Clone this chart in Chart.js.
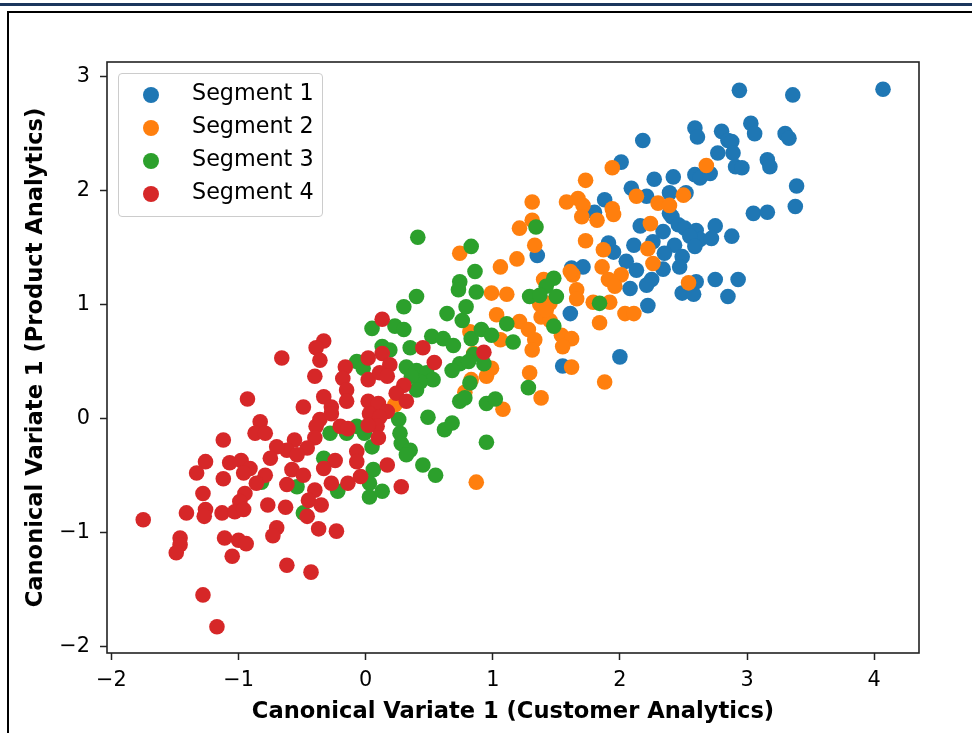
<!DOCTYPE html>
<html>
<head>
<meta charset="utf-8">
<title>Canonical variates by segment</title>
<script src="https://cdn.jsdelivr.net/npm/chart.js@4.4.1/dist/chart.umd.min.js"></script>
<style>
  html, body { margin: 0; padding: 0; background: #fff; }
  #wrap { position: relative; width: 972px; height: 733px; overflow: hidden; }
  #topbar { position: absolute; left: 0; top: 3px; width: 972px; height: 2.5px; background: #1b365d; }
  #frame { position: absolute; left: 7px; top: 11px; width: 990px; height: 740px; border-top: 2px solid #000; border-left: 2px solid #000; }
  #chart { position: absolute; left: 0; top: 0; }
  #legend {
    position: absolute; left: 118px; top: 73px; width: 203px; height: 138px;
    border: 1px solid #cccccc; border-radius: 4px; background: rgba(255, 255, 255, 0.8);
    font-family: 'DejaVu Sans', sans-serif; font-size: 22.3px; color: #000;
    padding-top: 4px; box-sizing: content-box;
  }
  .item { position: relative; height: 33px; }
  .dot { position: absolute; left: 24px; top: 9px; width: 16px; height: 16px; border-radius: 50%; }
  .lbl { position: absolute; left: 73px; top: -2px; line-height: 33px; white-space: nowrap; }
</style>
</head>
<body>
<div id="wrap">
  <div id="topbar"></div>
  <div id="frame"></div>
  <canvas id="chart" width="972" height="733"></canvas>
  <div id="legend"></div>
</div>
<script>
// segment names and colours
const segmentNames = ['Segment 1', 'Segment 2', 'Segment 3', 'Segment 4'];
const segmentColors = ['#1f77b4', '#ff7f0e', '#2ca02c', '#d62728'];

// axis ticks and limits
const xTickValues = [-2, -1, 0, 1, 2, 3, 4];
const yTickValues = [-2, -1, 0, 1, 2, 3];
const xLimits = [-2.035, 4.353];
const yLimits = [-2.060, 3.129];

// [customer variate, product variate] per segment
const segment1 = [
  [2.94, 2.88], [3.36, 2.84], [4.07, 2.89], [2.59, 2.55], [2.61, 2.47], [2.80, 2.52], [2.85, 2.44], [2.88, 2.43],
  [2.89, 2.33], [2.91, 2.21], [2.96, 2.20], [3.03, 2.59], [3.06, 2.50], [3.30, 2.50], [3.33, 2.46], [2.18, 2.44],
  [2.77, 2.33], [3.16, 2.27], [3.18, 2.21], [2.01, 2.25], [2.59, 2.14], [2.63, 2.11], [2.71, 2.15], [2.42, 2.12],
  [2.27, 2.10], [3.39, 2.04], [2.09, 2.02], [2.39, 1.98], [2.52, 1.98], [2.21, 1.95], [1.88, 1.92], [3.38, 1.86],
  [3.05, 1.80], [3.16, 1.81], [2.39, 1.80], [2.41, 1.77], [2.16, 1.69], [2.46, 1.70], [2.34, 1.64], [2.51, 1.67],
  [2.60, 1.65], [2.75, 1.69], [2.63, 1.57], [2.72, 1.58], [2.88, 1.60], [2.55, 1.60], [2.59, 1.51], [2.43, 1.52],
  [2.11, 1.52], [2.26, 1.55], [1.91, 1.54], [1.95, 1.46], [2.49, 1.42], [2.35, 1.45], [2.05, 1.38], [2.13, 1.30],
  [2.34, 1.31], [2.47, 1.33], [2.25, 1.22], [2.21, 1.17], [2.08, 1.14], [2.60, 1.20], [2.75, 1.22], [2.93, 1.22],
  [2.49, 1.10], [2.58, 1.09], [2.85, 1.07], [2.22, 0.99], [2.00, 0.54], [1.80, 1.81], [1.35, 1.43], [1.71, 1.33],
  [1.62, 1.32], [1.61, 0.92], [1.55, 0.46]
];
const segment2 = [
  [1.94, 2.20], [1.73, 2.09], [2.13, 1.95], [1.67, 1.93], [1.58, 1.90], [1.31, 1.90], [1.71, 1.87], [1.70, 1.77],
  [1.94, 1.84], [1.95, 1.79], [1.82, 1.74], [1.31, 1.74], [1.21, 1.67], [1.33, 1.52], [1.73, 1.56], [1.87, 1.48],
  [0.74, 1.45], [1.19, 1.40], [1.06, 1.33], [1.86, 1.33], [1.63, 1.26], [1.61, 1.29], [2.01, 1.26], [1.91, 1.22],
  [1.96, 1.16], [1.40, 1.22], [1.37, 1.00], [1.45, 1.01], [1.38, 0.89], [1.45, 0.86], [1.42, 0.95], [1.66, 1.13],
  [1.66, 1.05], [0.99, 1.10], [1.11, 1.09], [1.79, 1.02], [1.92, 1.02], [2.04, 0.92], [2.11, 0.92], [1.84, 0.84],
  [1.03, 0.91], [1.21, 0.85], [0.82, 0.76], [1.28, 0.78], [1.06, 0.69], [1.33, 0.69], [1.31, 0.60], [1.54, 0.73],
  [1.62, 0.70], [1.55, 0.63], [0.85, 0.57], [0.99, 0.44], [0.95, 0.37], [0.83, 0.34], [0.78, 0.23], [1.62, 0.45],
  [1.29, 0.40], [1.88, 0.32], [1.38, 0.18], [1.08, 0.08], [0.87, -0.56], [0.23, 0.12], [2.68, 2.22], [2.30, 1.89],
  [2.39, 1.87], [2.50, 1.96], [2.24, 1.71], [2.22, 1.49], [2.26, 1.36], [2.54, 1.19]
];
const segment3 = [
  [0.41, 1.59], [0.83, 1.51], [0.86, 1.29], [0.74, 1.20], [0.73, 1.13], [0.87, 1.11], [0.40, 1.07], [0.30, 0.98],
  [0.79, 0.98], [0.64, 0.92], [0.76, 0.86], [0.05, 0.79], [0.23, 0.81], [0.30, 0.78], [0.52, 0.72], [0.61, 0.70],
  [0.69, 0.64], [0.83, 0.70], [0.35, 0.62], [0.13, 0.63], [0.19, 0.60], [0.85, 0.56], [0.74, 0.48], [0.68, 0.42],
  [0.32, 0.45], [0.40, 0.42], [0.48, 0.40], [0.53, 0.34], [0.43, 0.32], [0.36, 0.37], [0.40, 0.25], [-0.07, 0.50],
  [-0.02, 0.44], [0.82, 0.31], [0.74, 0.15], [0.78, 0.18], [0.49, 0.01], [0.62, -0.10], [0.68, -0.04], [0.26, -0.01],
  [0.27, -0.13], [0.28, -0.22], [0.35, -0.28], [0.32, -0.32], [0.45, -0.41], [0.55, -0.50], [-0.07, -0.07], [-0.15, -0.13],
  [-0.01, -0.13], [0.05, -0.25], [-0.28, -0.13], [-0.33, -0.35], [0.06, -0.45], [0.03, -0.57], [0.13, -0.64], [0.03, -0.69],
  [-0.22, -0.64], [-0.54, -0.60], [-0.49, -0.83], [-0.82, -0.56], [1.34, 1.68], [1.48, 1.23], [1.42, 1.16], [1.29, 1.07],
  [1.37, 1.08], [1.50, 1.07], [1.84, 1.01], [1.11, 0.83], [1.48, 0.81], [0.91, 0.78], [0.99, 0.73], [1.16, 0.67],
  [0.93, 0.48], [1.28, 0.27], [0.95, 0.13], [1.02, 0.17], [0.95, -0.21], [0.81, 0.50]
];
const segment4 = [
  [0.13, 0.87], [-0.33, 0.68], [-0.39, 0.62], [-0.36, 0.51], [-0.66, 0.53], [0.45, 0.62], [0.54, 0.49], [0.93, 0.58],
  [0.02, 0.53], [0.13, 0.57], [0.19, 0.47], [-0.16, 0.45], [-0.18, 0.35], [0.02, 0.34], [0.11, 0.40], [0.17, 0.37],
  [0.30, 0.29], [0.24, 0.22], [0.32, 0.15], [-0.40, 0.37], [-0.15, 0.25], [-0.15, 0.15], [-0.33, 0.19], [-0.27, 0.10],
  [-0.49, 0.10], [0.02, 0.15], [0.10, 0.13], [0.17, 0.06], [0.03, 0.04], [0.11, 0.01], [0.09, -0.07], [0.02, -0.06],
  [0.10, -0.17], [-0.20, -0.07], [-0.14, -0.09], [-0.36, -0.01], [-0.39, -0.07], [-0.40, -0.17], [-0.56, -0.19], [-0.62, -0.28],
  [-0.46, -0.26], [-0.54, -0.32], [-0.07, -0.29], [-0.07, -0.38], [-0.24, -0.37], [-0.33, -0.44], [0.17, -0.41], [-0.58, -0.45],
  [-0.49, -0.50], [-0.62, -0.58], [-0.04, -0.51], [-0.14, -0.57], [-0.27, -0.57], [-0.40, -0.63], [-0.45, -0.72], [-0.35, -0.76],
  [0.28, -0.60], [-0.63, -0.78], [-0.46, -0.86], [-0.27, 0.04], [-0.93, 0.17], [-0.83, -0.03], [-0.87, -0.13], [-0.79, -0.13],
  [-1.12, -0.19], [-0.70, -0.25], [-0.75, -0.35], [-0.98, -0.37], [-1.07, -0.39], [-1.26, -0.38], [-1.33, -0.48], [-0.91, -0.44],
  [-0.96, -0.48], [-0.79, -0.50], [-0.86, -0.57], [-1.12, -0.53], [-0.77, -0.76], [-1.28, -0.66], [-0.95, -0.66], [-0.99, -0.73],
  [-1.75, -0.89], [-1.41, -0.83], [-1.26, -0.80], [-1.27, -0.86], [-1.13, -0.83], [-1.03, -0.82], [-0.96, -0.80], [-0.37, -0.97],
  [-0.23, -0.99], [-0.70, -0.96], [-0.73, -1.03], [-1.11, -1.05], [-1.00, -1.07], [-0.94, -1.10], [-1.46, -1.05], [-1.46, -1.11],
  [-1.49, -1.18], [-1.05, -1.21], [-0.62, -1.29], [-0.43, -1.35], [-1.28, -1.55], [-1.17, -1.83]
];

const segments = [segment1, segment2, segment3, segment4];

// matplotlib style minus sign
const fmtTick = (v) => (v < 0 ? '\u2212' + Math.abs(v) : String(v));

// plain box round the plot area (all four spines)
const spinesPlugin = {
    id: 'spines',
    afterDatasetsDraw(chart) {
        const { ctx, chartArea } = chart;
        ctx.save();
        ctx.strokeStyle = '#222';
        ctx.lineWidth = 1.6;
        ctx.strokeRect(chartArea.left, chartArea.top, chartArea.right - chartArea.left, chartArea.bottom - chartArea.top);
        ctx.restore();
    }
};

Chart.defaults.font.family = "'DejaVu Sans', sans-serif";
Chart.defaults.color = '#000';

const tickGrid = {
    drawOnChartArea: false,
    drawTicks: true,
    tickLength: 7,
    tickWidth: 1.5,
    tickColor: '#222'
};

new Chart(document.getElementById('chart').getContext('2d'), {
    type: 'scatter',
    data: {
        datasets: segments.map((pts, i) => ({
            label: segmentNames[i],
            data: pts.map(p => ({ x: p[0], y: p[1] })),
            backgroundColor: segmentColors[i],
            borderWidth: 0,
            pointRadius: 7.8,
            pointHoverRadius: 7.8,
            order: segments.length - i // later segments drawn on top
        }))
    },
    options: {
        responsive: false,
        animation: false,
        devicePixelRatio: 1,
        layout: { padding: { left: 0, top: 62, right: 53, bottom: 0 } },
        scales: {
            x: {
                type: 'linear',
                min: xLimits[0],
                max: xLimits[1],
                afterBuildTicks: (s) => { s.ticks = xTickValues.map(v => ({ value: v })); },
                afterFit: (s) => { s.height = 80; },
                grid: tickGrid,
                border: { display: false },
                ticks: { font: { size: 20.8 }, padding: 8, maxRotation: 0, callback: fmtTick },
                title: {
                    display: true,
                    text: 'Canonical Variate 1 (Customer Analytics)',
                    font: { size: 22.6, weight: 'bold' },
                    padding: { top: 0, bottom: 7 }
                }
            },
            y: {
                type: 'linear',
                min: yLimits[0],
                max: yLimits[1],
                afterBuildTicks: (s) => { s.ticks = yTickValues.map(v => ({ value: v })); },
                afterFit: (s) => { s.width = 107; },
                grid: tickGrid,
                border: { display: false },
                ticks: { font: { size: 20.8 }, padding: 10, callback: fmtTick },
                title: {
                    display: true,
                    text: 'Canonical Variate 1 (Product Analytics)',
                    font: { size: 22.6, weight: 'bold' },
                    padding: { top: 23, bottom: 0 }
                }
            }
        },
        plugins: {
            legend: { display: false },
            tooltip: { enabled: false }
        }
    },
    plugins: [spinesPlugin]
});

// legend box in the upper left, built from the same names and colours
const legendEl = document.getElementById('legend');
segmentNames.forEach((name, i) => {
    const row = document.createElement('div');
    row.className = 'item';
    const dot = document.createElement('span');
    dot.className = 'dot';
    dot.style.background = segmentColors[i];
    const lbl = document.createElement('span');
    lbl.className = 'lbl';
    lbl.textContent = name;
    row.appendChild(dot);
    row.appendChild(lbl);
    legendEl.appendChild(row);
});
</script>
</body>
</html>
